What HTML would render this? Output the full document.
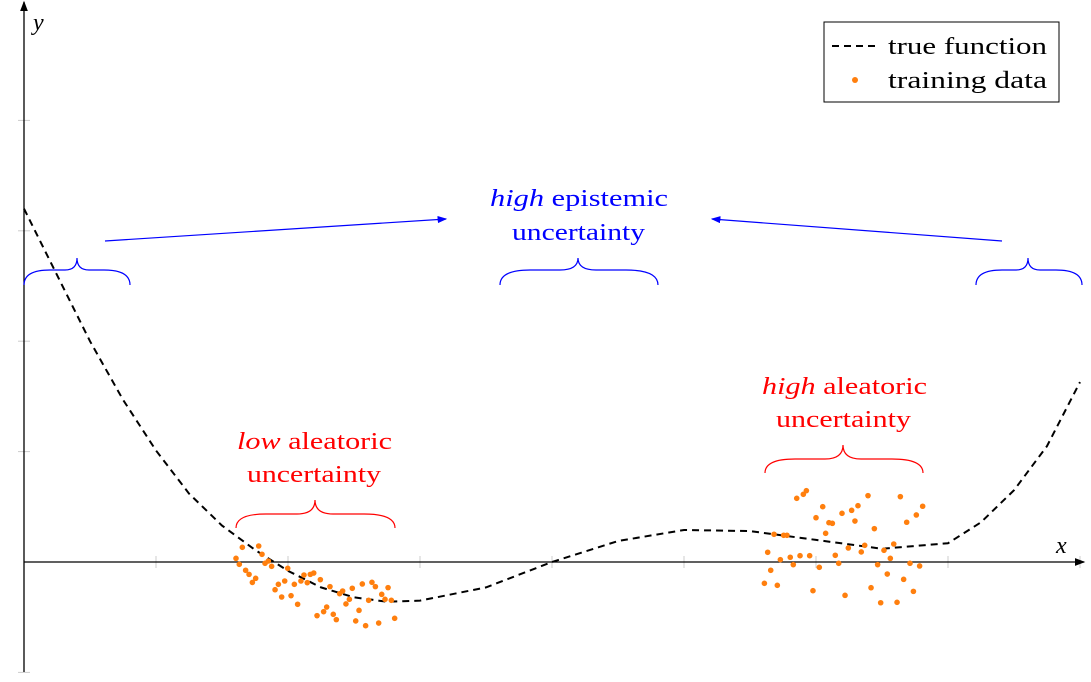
<!DOCTYPE html>
<html><head><meta charset="utf-8"><style>
body{margin:0;background:#fff;}
svg{display:block;font-family:"Liberation Serif",serif;}
</style></head><body>
<svg id="chart" width="1091" height="682" viewBox="0 0 1091 682">
<defs>
<marker id="ab" markerWidth="8" markerHeight="6" refX="7" refY="3" orient="auto"><path d="M0,0 L8,3 L0,6 Z" fill="blue"/></marker>
<marker id="ak" markerWidth="8" markerHeight="6" refX="7" refY="3" orient="auto"><path d="M0,0 L8,3 L0,6 Z" fill="#000"/></marker>
</defs>
<g id="ticks"></g>
<line x1="24" y1="562" x2="1084" y2="562" stroke="#000" stroke-width="1.3" marker-end="url(#ak)"/>
<line x1="24" y1="672" x2="24" y2="2" stroke="#000" stroke-width="1.3" marker-end="url(#ak)"/>
<text x="1056" y="553" font-size="24" font-style="italic">x</text>
<text x="33" y="30" font-size="24" font-style="italic">y</text>
<path id="curve" fill="none" stroke="#000" stroke-width="2" stroke-dasharray="7,5"/>
<g id="pts"></g>
<g>
<path d="M24,285 Q24,270 50,270 L65,270 Q77,270 77,258 Q77,270 89,270 L104,270 Q130,270 130,285" fill="none" stroke="blue" stroke-width="1.2"/>
<path d="M500,285 Q500,270 530,270 L560,270 Q578,270 578,258 Q578,270 596,270 L626,270 Q658,270 658,285" fill="none" stroke="blue" stroke-width="1.2"/>
<path d="M976,285 Q976,270 1002,270 L1016,270 Q1028,270 1028,258 Q1028,270 1040,270 L1056,270 Q1082,270 1082,285" fill="none" stroke="blue" stroke-width="1.2"/>
<line x1="105" y1="241" x2="446" y2="219" stroke="blue" stroke-width="1.2" marker-end="url(#ab)"/>
<line x1="1002" y1="241" x2="712" y2="219" stroke="blue" stroke-width="1.2" marker-end="url(#ab)"/>
<text fill="blue" font-size="24"><tspan x="490" y="206" textLength="178" lengthAdjust="spacingAndGlyphs"><tspan font-style="italic">high</tspan> epistemic</tspan><tspan x="512" y="240" textLength="133" lengthAdjust="spacingAndGlyphs">uncertainty</tspan></text>
<path d="M236,528 Q236,514 266,514 L297,514 Q315,514 315,500 Q315,514 333,514 L364,514 Q395,514 395,528" fill="none" stroke="red" stroke-width="1.2"/>
<text fill="red" font-size="24"><tspan x="237" y="449" textLength="155" lengthAdjust="spacingAndGlyphs"><tspan font-style="italic">low</tspan> aleatoric</tspan><tspan x="247" y="482" textLength="134" lengthAdjust="spacingAndGlyphs">uncertainty</tspan></text>
<path d="M765,473 Q765,459 795,459 L825,459 Q843,459 843,445 Q843,459 861,459 L892,459 Q923,459 923,473" fill="none" stroke="red" stroke-width="1.2"/>
<text fill="red" font-size="24"><tspan x="762" y="394" textLength="165" lengthAdjust="spacingAndGlyphs"><tspan font-style="italic">high</tspan> aleatoric</tspan><tspan x="776" y="427" textLength="135" lengthAdjust="spacingAndGlyphs">uncertainty</tspan></text>
</g>
<g>
<rect x="824" y="22" width="235" height="80" fill="#fff" stroke="#000" stroke-width="1"/>
<line x1="832" y1="46" x2="876" y2="46" stroke="#000" stroke-width="2" stroke-dasharray="7,5"/>
<text x="888" y="54" font-size="24" textLength="159" lengthAdjust="spacingAndGlyphs">true function</text>
<circle cx="855" cy="80" r="3" fill="#ff7f0e"/>
<text x="888" y="88" font-size="24" textLength="159" lengthAdjust="spacingAndGlyphs">training data</text>
</g>
</svg>
<script>
const curveX=[0,0.25,0.5,0.75,1,1.25,1.5,1.75,2,2.25,2.5,2.75,3,3.5,4,4.5,5,5.5,6,6.5,7,7.25,7.5,7.75,8];
const curveY=[3.2,2.6,2.0,1.47,1.01,0.62,0.33,0.11,-0.08,-0.23,-0.32,-0.36,-0.35,-0.23,0,0.19,0.29,0.28,0.2,0.12,0.17,0.36,0.65,1.05,1.63];
const dataX=[1.606,1.631,1.654,1.679,1.705,1.730,1.755,1.778,1.803,1.826,1.851,1.876,1.902,1.927,1.952,1.975,1.998,2.023,2.048,2.073,2.098,2.121,2.146,2.169,2.195,2.220,2.245,2.270,2.293,2.318,2.343,2.366,2.391,2.414,2.439,2.465,2.487,2.513,2.538,2.563,2.588,2.611,2.636,2.662,2.687,2.710,2.735,2.758,2.783,2.808,
5.609,5.634,5.657,5.682,5.707,5.730,5.755,5.780,5.805,5.828,5.854,5.879,5.904,5.927,5.952,5.977,6.000,6.025,6.051,6.073,6.098,6.124,6.146,6.172,6.197,6.220,6.245,6.270,6.295,6.318,6.343,6.369,6.394,6.417,6.442,6.467,6.490,6.515,6.540,6.563,6.589,6.614,6.639,6.664,6.687,6.712,6.738,6.760,6.785,6.808];
const dataY=[0.033,-0.021,0.133,-0.075,-0.112,-0.185,-0.148,0.145,0.070,-0.012,0.009,-0.039,-0.251,-0.202,-0.317,-0.172,-0.057,-0.305,-0.202,-0.383,-0.172,-0.118,-0.187,-0.112,-0.100,-0.486,-0.160,-0.450,-0.408,-0.223,-0.474,-0.522,-0.287,-0.263,-0.380,-0.338,-0.238,-0.534,-0.438,-0.199,-0.577,-0.347,-0.184,-0.223,-0.553,-0.293,-0.338,-0.232,-0.347,-0.510,
-0.193,0.088,-0.075,0.251,-0.211,0.021,0.242,0.242,0.043,-0.024,0.577,0.057,0.613,0.646,0.057,-0.260,0.401,-0.048,0.501,0.260,0.356,0.350,0.061,-0.012,0.441,-0.302,0.127,0.468,0.371,0.510,0.091,0.151,0.601,-0.233,0.302,-0.024,-0.369,0.106,-0.109,0.033,0.163,-0.365,0.592,-0.157,0.360,-0.012,-0.266,0.426,-0.036,0.505];
const xTicks=[1,2,3,4,5,6,7,8];
const yTicks=[-1,1,2,3,4];
const sx=v=>24+132*v, sy=v=>562-110.4*v;
const NS='http://www.w3.org/2000/svg';
const tg=document.getElementById('ticks');
xTicks.forEach(t=>{const l=document.createElementNS(NS,'line');


l.setAttribute('x1',sx(t));l.setAttribute('x2',sx(t));l.setAttribute('y1',556);l.setAttribute('y2',568);l.setAttribute('stroke','#ccc');tg.appendChild(l);});
yTicks.forEach(t=>{const l=document.createElementNS(NS,'line');


l.setAttribute('x1',18);l.setAttribute('x2',30);l.setAttribute('y1',sy(t));l.setAttribute('y2',sy(t));l.setAttribute('stroke','#ccc');tg.appendChild(l);});
document.getElementById('curve').setAttribute('d',curveX.map((x,i)=>(i?'L':'M')+sx(x)+','+sy(curveY[i])).join(' '));
const pg=document.getElementById('pts');
dataX.forEach((x,i)=>{const c=document.createElementNS(NS,'circle');


c.setAttribute('cx',sx(x));c.setAttribute('cy',sy(dataY[i]));c.setAttribute('r',2.8);c.setAttribute('fill','#ff7f0e');pg.appendChild(c);});
</script>
</body></html>
